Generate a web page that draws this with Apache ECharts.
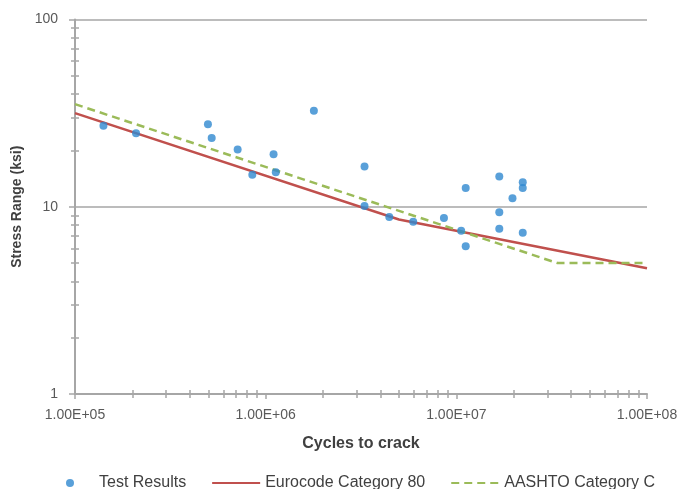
<!DOCTYPE html>
<html>
<head>
<meta charset="utf-8">
<script src="https://cdn.jsdelivr.net/npm/echarts@6/dist/echarts.min.js"></script>
<style>html,body{margin:0;padding:0;background:#fff;}#c{width:682px;height:489px;}</style>
</head>
<body>
<div id="c"></div>
<script>
// ---- data ----
var testCycles = [1.41e5, 2.09e5, 4.98e5, 5.21e5, 7.13e5, 8.51e5, 1.10e6, 1.13e6, 1.79e6,
                  3.30e6, 3.30e6, 4.45e6, 5.94e6, 8.61e6, 1.06e7, 1.12e7, 1.12e7,
                  1.68e7, 1.68e7, 1.68e7, 1.97e7, 2.23e7, 2.23e7, 2.23e7];
var testStress = [27.1, 24.7, 27.6, 23.3, 20.2, 14.8, 19.1, 15.3, 32.6,
                  16.4, 10.1, 8.82, 8.32, 8.71, 7.45, 12.6, 6.15,
                  14.5, 9.34, 7.64, 11.1, 13.5, 12.6, 7.27];
var euroCycles = [1e5, 5e6, 1e8];
var euroStress = [31.6, 8.55, 4.7];
var aashtoCycles = [1e5, 3.4e7, 1e8];
var aashtoStress = [35.3, 5.0, 5.0];
var xTickLabels = ['1.00E+05', '1.00E+06', '1.00E+07', '1.00E+08'];
var yTickLabels = ['1', '10', '100'];
var seriesNames = ['Test Results', 'Eurocode Category 80', 'AASHTO Category C'];

function zip(a, b) { return a.map(function (v, i) { return [v, b[i]]; }); }
// minor tick positions (log10 space), k*10^d for k=2..9
function minorTicks(d0, d1) {
  var out = [];
  for (var d = d0; d < d1; d++) for (var k = 2; k <= 9; k++) out.push(d + Math.log10(k));
  return out;
}
var xMinor = minorTicks(5, 8);
var yMinor = minorTicks(0, 2);

var axisColor = '#A6A6A6';
var labelColor = '#595959';
var font = 'Liberation Sans, Arial, sans-serif';

var chart = echarts.init(document.getElementById('c'));
function minorAxis(pos, min, max, vals, inside) {
  return {
    type: 'value', position: pos, min: min, max: max,
    axisLine: { show: false }, axisLabel: { show: false }, splitLine: { show: false },
    axisTick: { show: true, inside: inside, length: 4, customValues: vals,
                lineStyle: { color: axisColor, width: 1.5 } }
  };
}
chart.setOption({
  animation: false,
  backgroundColor: '#fff',
  grid: { left: 75, right: 35, top: 19.5, bottom: 95, containLabel: false },
  xAxis: [{
    type: 'log', logBase: 10, min: 1e5, max: 1e8, position: 'bottom',
    name: 'Cycles to crack', nameLocation: 'middle', nameGap: 42,
    nameTextStyle: { fontFamily: font, fontSize: 16, fontWeight: 'bold', color: '#404040' },
    axisLine: { show: true, lineStyle: { color: axisColor, width: 2 } },
    axisTick: { show: true, length: 5, lineStyle: { color: axisColor, width: 1.5 } },
    axisLabel: { fontFamily: font, fontSize: 14, color: labelColor, margin: 14,
      formatter: function (v) { return xTickLabels[Math.round(Math.log10(v)) - 5]; } },
    splitLine: { show: false }, minorTick: { show: false }
  }, minorAxis('bottom', 5, 8, xMinor, true), minorAxis('bottom', 5, 8, xMinor, false)],
  yAxis: [{
    type: 'log', logBase: 10, min: 1, max: 100, position: 'left',
    name: 'Stress Range (ksi)', nameLocation: 'middle', nameGap: 50,
    nameTextStyle: { fontFamily: font, fontSize: 14, fontWeight: 'bold', color: '#404040' },
    axisLine: { show: true, lineStyle: { color: axisColor, width: 2 } },
    axisTick: { show: true, length: 6, lineStyle: { color: axisColor, width: 1.5 } },
    axisLabel: { fontFamily: font, fontSize: 14, color: labelColor, margin: 17,
      formatter: function (v) { return yTickLabels[Math.round(Math.log10(v))]; } },
    splitLine: { show: true, lineStyle: { color: axisColor, width: 1.5 } }
  }, minorAxis('left', 0, 2, yMinor, true), minorAxis('left', 0, 2, yMinor, false)],
  legend: {
    left: 61, top: 470, itemWidth: 48, itemHeight: 8, itemGap: 25,
    textStyle: { fontFamily: font, fontSize: 16, color: '#404040' },
    data: [
      { name: seriesNames[0] },
      { name: seriesNames[1], itemStyle: { opacity: 0 } },
      { name: seriesNames[2], itemStyle: { opacity: 0 } }
    ]
  },
  series: [{
    name: seriesNames[1], type: 'line', data: zip(euroCycles, euroStress),
    symbol: 'none', lineStyle: { color: '#C0504D', width: 2.5 }, itemStyle: { color: '#C0504D' }, z: 2
  }, {
    name: seriesNames[2], type: 'line', data: zip(aashtoCycles, aashtoStress),
    symbol: 'none', lineStyle: { color: '#9BBB59', width: 2.5, type: [8, 5] }, itemStyle: { color: '#9BBB59' }, z: 2
  }, {
    name: seriesNames[0], type: 'scatter', data: zip(testCycles, testStress),
    symbol: 'circle', symbolSize: 8, itemStyle: { color: '#2F88CF' }, z: 3
  }]
});
</script>
</body>
</html>
